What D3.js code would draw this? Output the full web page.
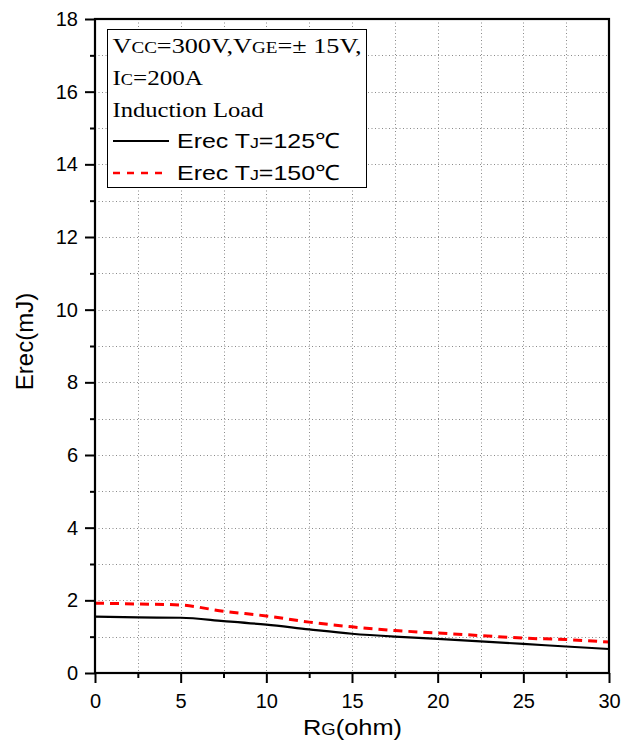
<!DOCTYPE html>
<html>
<head>
<meta charset="utf-8">
<script src="https://cdn.jsdelivr.net/npm/d3@7"></script>
<style>
  html, body { margin: 0; padding: 0; background: #fff; }
  svg { display: block; }
  .sans { font-family: Arial, "Liberation Sans", sans-serif; }
  .serif { font-family: "Times New Roman", "Liberation Serif", serif; }
</style>
</head>
<body>
<svg id="chart" width="622" height="744"></svg>
<script>
// ---- data ----
const rgValues = [0, 2.5, 5, 7.5, 10, 12.5, 15, 17.5, 20, 22.5, 25, 27.5, 30];
const erec125 = [1.55, 1.53, 1.52, 1.43, 1.33, 1.20, 1.08, 1.00, 0.94, 0.87, 0.80, 0.73, 0.66];
const erec150 = [1.92, 1.90, 1.87, 1.70, 1.57, 1.40, 1.27, 1.17, 1.10, 1.03, 0.96, 0.92, 0.85];
const xMajorTicks = [0, 5, 10, 15, 20, 25, 30];
const xMinorTicks = [2.5, 7.5, 12.5, 17.5, 22.5, 27.5];
const yMajorTicks = [0, 2, 4, 6, 8, 10, 12, 14, 16, 18];
const yMinorTicks = [1, 3, 5, 7, 9, 11, 13, 15, 17];
const legendLabels = ["Erec TJ=125℃", "Erec TJ=150℃"];

const svg = d3.select("#chart");
const x = d3.scaleLinear().domain([0, 30]).range([95, 609]);
const y = d3.scaleLinear().domain([0, 18]).range([673, 19]);
const X0 = x(0), X1 = x(30), Y0 = y(0), Y1 = y(18);

// grid
const grid = svg.append("g").attr("stroke", "#8a8a8a").attr("stroke-width", 1).attr("stroke-dasharray", "1,2.5");
grid.selectAll("line.v").data(xMajorTicks.concat(xMinorTicks).filter(d => d > 0 && d < 30))
  .join("line").attr("x1", d => Math.round(x(d)) + 0.5).attr("x2", d => Math.round(x(d)) + 0.5)
  .attr("y1", Y1).attr("y2", Y0);
grid.selectAll("line.h").data(yMajorTicks.concat(yMinorTicks).filter(d => d > 0 && d < 18))
  .join("line").attr("y1", d => Math.round(y(d)) + 0.5).attr("y2", d => Math.round(y(d)) + 0.5)
  .attr("x1", X0).attr("x2", X1);

// curves
const line = d3.line().x((d, i) => x(rgValues[i])).y(d => y(d)).curve(d3.curveMonotoneX);
svg.append("path").datum(erec125).attr("d", line).attr("fill", "none")
  .attr("stroke", "#000").attr("stroke-width", 2.2);
svg.append("path").datum(erec150).attr("d", line).attr("fill", "none")
  .attr("stroke", "#ff0000").attr("stroke-width", 3).attr("stroke-dasharray", "9,6");

// axes
function styleAxis(g) {
  g.select(".domain").remove();
  g.selectAll(".tick line").attr("stroke", "#000").attr("stroke-width", 2);
  g.selectAll(".tick text").attr("class", "sans").attr("font-size", 20).attr("fill", "#000");
}
const xAxis = svg.append("g").attr("transform", `translate(0,${Y0})`)
  .call(d3.axisBottom(x).tickValues(xMajorTicks).tickSize(10).tickPadding(10.5).tickFormat(d3.format("d")));
styleAxis(xAxis);
const xMinor = svg.append("g").attr("transform", `translate(0,${Y0})`)
  .call(d3.axisBottom(x).tickValues(xMinorTicks).tickSize(5).tickFormat(""));
styleAxis(xMinor);
const yAxis = svg.append("g").attr("transform", `translate(${X0},0)`)
  .call(d3.axisLeft(y).tickValues(yMajorTicks).tickSize(10).tickPadding(7).tickFormat(d3.format("d")));
styleAxis(yAxis);
const yMinor = svg.append("g").attr("transform", `translate(${X0},0)`)
  .call(d3.axisLeft(y).tickValues(yMinorTicks).tickSize(5).tickFormat(""));
styleAxis(yMinor);

// frame
svg.append("rect").attr("x", X0).attr("y", Y1).attr("width", X1 - X0).attr("height", Y0 - Y1)
  .attr("fill", "none").attr("stroke", "#000").attr("stroke-width", 2.2);

// axis titles
const xt = svg.append("text").attr("class", "sans").attr("x", 303).attr("y", 735)
  .attr("font-size", 22).attr("fill", "#000")
  .attr("textLength", 99).attr("lengthAdjust", "spacingAndGlyphs");
xt.append("tspan").text("R");
xt.append("tspan").attr("font-size", 16).text("G");
xt.append("tspan").text("(ohm)");
svg.append("text").attr("class", "sans").attr("transform", "translate(33,341.5) rotate(-90)")
  .attr("text-anchor", "middle").attr("font-size", 24).attr("fill", "#000").text("Erec(mJ)");

// legend
const lg = svg.append("g");
lg.append("rect").attr("x", 107.5).attr("y", 29.5).attr("width", 259).attr("height", 158)
  .attr("fill", "#fff").attr("stroke", "#000").attr("stroke-width", 1);
function fit(sel, w) { return sel.attr("textLength", w).attr("lengthAdjust", "spacingAndGlyphs"); }
const t1 = lg.append("text").attr("class", "serif").attr("x", 112.5).attr("y", 53).attr("font-size", 22);
t1.append("tspan").text("V"); t1.append("tspan").attr("font-size", 16).text("CC");
t1.append("tspan").text("=300V,V"); t1.append("tspan").attr("font-size", 16).text("GE");
t1.append("tspan").text("=± 15V,");
fit(t1, 249);
const t2 = lg.append("text").attr("class", "serif").attr("x", 112.5).attr("y", 85).attr("font-size", 22);
t2.append("tspan").text("I"); t2.append("tspan").attr("font-size", 16).text("C");
t2.append("tspan").text("=200A");
fit(t2, 90.5);
fit(lg.append("text").attr("class", "serif").attr("x", 112.5).attr("y", 117).attr("font-size", 22).text("Induction Load"), 151);

const legendStyles = [
  { color: "#000", width: 2, dash: null, y: 148 },
  { color: "#ff0000", width: 2.5, dash: "7,7", y: 180 }
];
legendLabels.forEach((lab, i) => {
  const s = legendStyles[i];
  lg.append("line").attr("x1", 113).attr("x2", 169).attr("y1", s.y - 7).attr("y2", s.y - 7)
    .attr("stroke", s.color).attr("stroke-width", s.width).attr("stroke-dasharray", s.dash);
  const parts = lab.split("J");
  const t = lg.append("text").attr("class", "sans").attr("x", 177).attr("y", s.y).attr("font-size", 21);
  t.append("tspan").text(parts[0]);
  t.append("tspan").attr("font-size", 15).text("J");
  t.append("tspan").text(parts[1]);
  fit(t, 163);
});
</script>
</body>
</html>
